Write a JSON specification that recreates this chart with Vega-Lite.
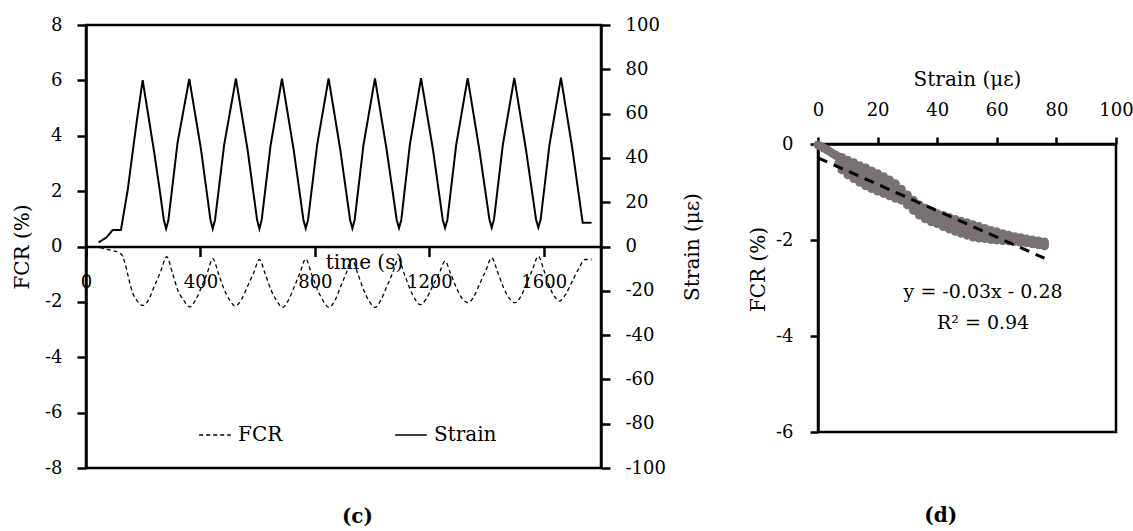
{
  "$schema": "https://vega.github.io/schema/vega-lite/v6.json",
  "background": "white",
  "padding": {"left": 11, "top": 14, "right": 2, "bottom": 5},
  "config": {
    "font": "DejaVu Serif",
    "view": {"stroke": "black", "strokeWidth": 2.5},
    "axis": {"grid": false, "domainColor": "black", "domainWidth": 2.5, "tickColor": "black", "tickWidth": 2.5, "labelColor": "black", "titleColor": "black", "labelFont": "DejaVu Serif", "titleFont": "DejaVu Serif", "labelFontSize": 18, "titleFontSize": 20, "titleFontWeight": "normal", "labelOverlap": false, "labelFlush": false, "labelExpr": "'' + datum.value"},
    "title": {"font": "DejaVu Serif", "fontSize": 20, "color": "black"}
  },
  "datasets": {
    "strain": [
      {"t":44,"v":1.9},{"t":70,"v":3.9},{"t":93,"v":7.4},{"t":122,"v":7.4},{"t":146,"v":25.7},{"t":175,"v":54.3},{"t":198,"v":75.1},
      {"t":239,"v":42},{"t":259,"v":24.2},{"t":272,"v":12},{"t":280,"v":8},{"t":288,"v":12},{"t":320,"v":46.8},{"t":361,"v":75.7},
      {"t":402,"v":43.8},{"t":435,"v":12},{"t":443,"v":8},{"t":451,"v":12},{"t":483,"v":46},{"t":524,"v":75.8},
      {"t":565,"v":43.5},{"t":598,"v":12},{"t":606,"v":8},{"t":614,"v":12},{"t":645,"v":45.5},{"t":685,"v":75.8},
      {"t":726,"v":43.5},{"t":760,"v":12},{"t":768,"v":8.2},{"t":776,"v":12},{"t":808,"v":46},{"t":848,"v":75.9},
      {"t":889,"v":43.5},{"t":923,"v":12},{"t":931,"v":8.2},{"t":939,"v":12},{"t":970,"v":46},{"t":1010,"v":75.9},
      {"t":1051,"v":43.5},{"t":1086,"v":12},{"t":1094,"v":8.3},{"t":1102,"v":12},{"t":1132,"v":46},{"t":1171,"v":76},
      {"t":1213,"v":43.5},{"t":1247,"v":12},{"t":1255,"v":8.4},{"t":1263,"v":12},{"t":1294,"v":46},{"t":1334,"v":76},
      {"t":1375,"v":43.5},{"t":1410,"v":12.2},{"t":1418,"v":8.5},{"t":1426,"v":12.2},{"t":1457,"v":46},{"t":1497,"v":76.1},
      {"t":1538,"v":43.5},{"t":1573,"v":12.2},{"t":1581,"v":8.6},{"t":1589,"v":12.2},{"t":1620,"v":46},{"t":1660,"v":76.2},
      {"t":1700,"v":44},{"t":1736,"v":10.7},{"t":1767,"v":10.7}
    ],
    "fcr": [
      {"t":0,"v":0},{"t":52,"v":-0.05},{"t":70,"v":-0.1},{"t":117,"v":-0.23},{"t":128,"v":-0.35},{"t":134,"v":-0.53},{"t":163,"v":-1.67},{"t":180,"v":-1.98},
      {"t":200,"v":-2.13},{"t":220,"v":-1.9},{"t":239,"v":-1.43},{"t":261,"v":-0.9},{"t":282,"v":-0.37},{"t":302,"v":-0.95},{"t":320,"v":-1.55},{"t":342,"v":-1.95},
      {"t":363,"v":-2.18},{"t":383,"v":-1.93},{"t":404,"v":-1.45},{"t":424,"v":-0.95},{"t":443,"v":-0.44},{"t":463,"v":-0.98},{"t":483,"v":-1.55},{"t":503,"v":-1.95},
      {"t":522,"v":-2.15},{"t":544,"v":-1.9},{"t":565,"v":-1.43},{"t":586,"v":-0.95},{"t":606,"v":-0.47},{"t":626,"v":-0.98},{"t":646,"v":-1.55},{"t":667,"v":-1.97},
      {"t":687,"v":-2.2},{"t":707,"v":-1.95},{"t":728,"v":-1.45},{"t":748,"v":-0.95},{"t":768,"v":-0.45},{"t":788,"v":-0.98},{"t":809,"v":-1.56},{"t":830,"v":-1.98},
      {"t":850,"v":-2.2},{"t":870,"v":-1.95},{"t":890,"v":-1.45},{"t":910,"v":-0.95},{"t":929,"v":-0.45},{"t":950,"v":-0.98},{"t":970,"v":-1.56},{"t":990,"v":-1.98},
      {"t":1010,"v":-2.2},{"t":1030,"v":-1.95},{"t":1051,"v":-1.45},{"t":1072,"v":-0.95},{"t":1092,"v":-0.45},{"t":1112,"v":-0.98},{"t":1132,"v":-1.52},{"t":1150,"v":-1.9},
      {"t":1168,"v":-2.1},{"t":1190,"v":-1.88},{"t":1212,"v":-1.42},{"t":1234,"v":-0.98},{"t":1255,"v":-0.53},{"t":1275,"v":-1.0},{"t":1295,"v":-1.5},{"t":1315,"v":-1.88},
      {"t":1335,"v":-2.03},{"t":1355,"v":-1.82},{"t":1376,"v":-1.35},{"t":1397,"v":-0.88},{"t":1418,"v":-0.41},{"t":1438,"v":-0.9},{"t":1458,"v":-1.45},{"t":1478,"v":-1.85},
      {"t":1499,"v":-2.03},{"t":1519,"v":-1.82},{"t":1540,"v":-1.33},{"t":1560,"v":-0.85},{"t":1581,"v":-0.35},{"t":1600,"v":-0.85},{"t":1618,"v":-1.4},{"t":1637,"v":-1.8},
      {"t":1655,"v":-1.97},{"t":1675,"v":-1.75},{"t":1700,"v":-1.25},{"t":1722,"v":-0.8},{"t":1744,"v":-0.47},{"t":1767,"v":-0.47}
    ],
    "scatter": [
      {"s":0,"f":-0.02},{"s":1,"f":-0.05},{"s":2,"f":-0.085},{"s":3,"f":-0.12},{"s":4,"f":-0.16},{"s":5,"f":-0.2},{"s":6,"f":-0.235},{"s":7,"f":-0.27},{"s":7,"f":-0.4},
      {"s":8,"f":-0.28},{"s":8,"f":-0.41},{"s":8,"f":-0.54},{"s":9,"f":-0.38},{"s":9,"f":-0.52},
      {"s":10,"f":-0.34},{"s":10,"f":-0.49},{"s":10,"f":-0.64},{"s":11,"f":-0.44},{"s":11,"f":-0.6},
      {"s":12,"f":-0.39},{"s":12,"f":-0.555},{"s":12,"f":-0.72},{"s":13,"f":-0.505},{"s":13,"f":-0.675},
      {"s":14,"f":-0.45},{"s":14,"f":-0.625},{"s":14,"f":-0.8},{"s":15,"f":-0.565},{"s":15,"f":-0.745},
      {"s":16,"f":-0.5},{"s":16,"f":-0.685},{"s":16,"f":-0.87},{"s":17,"f":-0.62},{"s":17,"f":-0.81},
      {"s":18,"f":-0.56},{"s":18,"f":-0.745},{"s":18,"f":-0.93},{"s":19,"f":-0.68},{"s":19,"f":-0.865},
      {"s":20,"f":-0.62},{"s":20,"f":-0.8},{"s":20,"f":-0.98},{"s":21,"f":-0.74},{"s":21,"f":-0.915},
      {"s":22,"f":-0.68},{"s":22,"f":-0.855},{"s":22,"f":-1.03},{"s":23,"f":-0.8},{"s":23,"f":-0.97},
      {"s":24,"f":-0.75},{"s":24,"f":-0.915},{"s":24,"f":-1.08},{"s":25,"f":-0.87},{"s":25,"f":-1.025},
      {"s":26,"f":-0.83},{"s":26,"f":-0.98},{"s":26,"f":-1.13},{"s":27,"f":-0.95},{"s":27,"f":-1.085},
      {"s":28,"f":-0.94},{"s":28,"f":-1.055},{"s":28,"f":-1.17},{"s":29,"f":-1.055},{"s":29,"f":-1.165},
      {"s":30,"f":-1.06},{"s":30,"f":-1.165},{"s":30,"f":-1.27},{"s":31,"f":-1.17},{"s":31,"f":-1.27},
      {"s":32,"f":-1.17},{"s":32,"f":-1.275},{"s":32,"f":-1.38},{"s":33,"f":-1.27},{"s":33,"f":-1.38},
      {"s":34,"f":-1.27},{"s":34,"f":-1.375},{"s":34,"f":-1.48},{"s":35,"f":-1.36},{"s":35,"f":-1.465},
      {"s":36,"f":-1.34},{"s":36,"f":-1.45},{"s":36,"f":-1.56},{"s":37,"f":-1.425},{"s":37,"f":-1.535},
      {"s":38,"f":-1.4},{"s":38,"f":-1.51},{"s":38,"f":-1.62},{"s":39,"f":-1.48},{"s":39,"f":-1.585},
      {"s":40,"f":-1.45},{"s":40,"f":-1.555},{"s":40,"f":-1.66},{"s":41,"f":-1.525},{"s":41,"f":-1.635},
      {"s":42,"f":-1.49},{"s":42,"f":-1.605},{"s":42,"f":-1.72},{"s":43,"f":-1.57},{"s":43,"f":-1.685},
      {"s":44,"f":-1.53},{"s":44,"f":-1.65},{"s":44,"f":-1.77},{"s":45,"f":-1.61},{"s":45,"f":-1.735},
      {"s":46,"f":-1.57},{"s":46,"f":-1.695},{"s":46,"f":-1.82},{"s":47,"f":-1.65},{"s":47,"f":-1.78},
      {"s":48,"f":-1.61},{"s":48,"f":-1.735},{"s":48,"f":-1.86},{"s":49,"f":-1.69},{"s":49,"f":-1.815},
      {"s":50,"f":-1.64},{"s":50,"f":-1.77},{"s":50,"f":-1.9},{"s":51,"f":-1.725},{"s":51,"f":-1.855},
      {"s":52,"f":-1.68},{"s":52,"f":-1.81},{"s":52,"f":-1.94},{"s":53,"f":-1.76},{"s":53,"f":-1.89},
      {"s":54,"f":-1.72},{"s":54,"f":-1.84},{"s":54,"f":-1.96},{"s":55,"f":-1.795},{"s":55,"f":-1.91},
      {"s":56,"f":-1.76},{"s":56,"f":-1.865},{"s":56,"f":-1.97},{"s":57,"f":-1.83},{"s":57,"f":-1.93},
      {"s":58,"f":-1.8},{"s":58,"f":-1.895},{"s":58,"f":-1.99},{"s":59,"f":-1.86},{"s":59,"f":-1.95},
      {"s":60,"f":-1.83},{"s":60,"f":-1.915},{"s":60,"f":-2.0},{"s":61,"f":-1.89},{"s":61,"f":-1.965},
      {"s":62,"f":-1.87},{"s":62,"f":-1.94},{"s":62,"f":-2.01},{"s":63,"f":-1.92},{"s":63,"f":-1.985},
      {"s":64,"f":-1.9},{"s":64,"f":-1.96},{"s":64,"f":-2.02},{"s":65,"f":-1.94},{"s":65,"f":-2.0},
      {"s":66,"f":-1.93},{"s":66,"f":-1.98},{"s":66,"f":-2.03},{"s":67,"f":-1.965},{"s":67,"f":-2.015},
      {"s":68,"f":-1.95},{"s":68,"f":-2.0},{"s":68,"f":-2.05},{"s":69,"f":-1.99},{"s":69,"f":-2.035},
      {"s":70,"f":-1.98},{"s":70,"f":-2.02},{"s":70,"f":-2.06},{"s":71,"f":-2.01},{"s":71,"f":-2.05},
      {"s":72,"f":-2.0},{"s":72,"f":-2.04},{"s":72,"f":-2.08},{"s":73,"f":-2.03},{"s":73,"f":-2.07},
      {"s":74,"f":-2.02},{"s":74,"f":-2.06},{"s":74,"f":-2.1},{"s":75,"f":-2.05},{"s":75,"f":-2.09},
      {"s":76,"f":-2.04},{"s":76,"f":-2.08},{"s":76,"f":-2.12}
    ],
    "trend": [{"s":0,"f":-0.29},{"s":76,"f":-2.38}],
    "eq": [{"s":55.4,"f":-3.09,"label":"y = -0.03x - 0.28"},{"s":55.4,"f":-3.72,"label":"R² = 0.94"}]
  },
  "spacing": 43,
  "resolve": {"scale": {"strokeDash": "independent"}, "legend": {"strokeDash": "independent"}},
  "hconcat": [
    {
      "width": 515,
      "height": 443,
      "title": {"text": "(c)", "orient": "bottom", "offset": 30, "fontWeight": "bold", "frame": "bounds", "anchor": "middle"},
      "encoding": {
        "x": {"field": "t", "type": "quantitative", "scale": {"domain": [0, 1800], "nice": false},
          "axis": {"values": [0, 400, 800, 1200, 1600], "offset": -221.5, "title": "time (s)", "tickSize": 10, "labelPadding": 17, "titleX": 278, "titleY": 16, "titleBaseline": "middle", "titleAlign": "center"}}
      },
      "layer": [
        {
          "data": {"name": "fcr"},
          "mark": {"type": "line", "stroke": "black", "strokeWidth": 1.3, "interpolate": "monotone"},
          "encoding": {
            "y": {"field": "v", "type": "quantitative", "scale": {"domain": [-8, 8], "nice": false},
              "axis": {"title": "FCR (%)", "values": [-8, -6, -4, -2, 0, 2, 4, 6, 8], "tickSize": 9, "labelPadding": 15, "titlePadding": 12}},
            "strokeDash": {"datum": "FCR", "type": "nominal", "scale": {"domain": ["FCR", "Strain"], "range": [[4, 3], [1, 0]]},
              "legend": {"orient": "none", "legendX": 112, "legendY": 393, "direction": "horizontal", "columns": 2, "title": null, "symbolType": "stroke", "symbolSize": 1000, "symbolStrokeWidth": 1.5, "symbolStrokeColor": "black", "labelFontSize": 20, "labelFont": "DejaVu Serif", "labelColor": "black", "labelOffset": 6, "columnPadding": 109, "padding": 0}}
          }
        },
        {
          "data": {"name": "strain"},
          "mark": {"type": "line", "stroke": "black", "strokeWidth": 2},
          "encoding": {
            "y": {"field": "v", "type": "quantitative", "scale": {"domain": [-100, 100], "nice": false},
              "axis": {"orient": "right", "title": "Strain (με)", "values": [-100, -80, -60, -40, -20, 0, 20, 40, 60, 80, 100], "tickSize": 9, "labelPadding": 15, "titlePadding": 17, "titleAngle": -90, "titleBaseline": "top"}},
            "strokeDash": {"datum": "Strain", "type": "nominal"}
          }
        }
      ],
      "resolve": {"scale": {"y": "independent"}}
    },
    {
      "spacing": 0,
      "vconcat": [
        {
          "width": 10,
          "height": 42,
          "data": {"values": []},
          "mark": {"type": "point", "opacity": 0},
          "view": {"stroke": null}
        },
        {
          "width": 298,
          "height": 288,
          "title": {"text": "(d)", "orient": "bottom", "offset": 65, "fontWeight": "bold", "frame": "bounds", "anchor": "middle"},
          "layer": [
            {
              "data": {"name": "scatter"},
              "mark": {"type": "circle", "color": "#7a7272", "size": 80, "opacity": 1},
              "encoding": {
                "x": {"field": "s", "type": "quantitative", "scale": {"domain": [0, 100], "nice": false},
                  "axis": {"orient": "top", "values": [0, 20, 40, 60, 80, 100], "title": "Strain (με)", "tickSize": 7, "labelPadding": 18, "titlePadding": 12}},
                "y": {"field": "f", "type": "quantitative", "scale": {"domain": [-6, 0], "nice": false},
                  "axis": {"values": [-6, -4, -2, 0], "title": "FCR (%)", "tickSize": 8, "labelPadding": 17, "titlePadding": 7, "titleY": 125}}
              }
            },
            {
              "data": {"name": "trend"},
              "mark": {"type": "line", "stroke": "black", "strokeWidth": 3, "strokeDash": [10, 7]},
              "encoding": {
                "x": {"field": "s", "type": "quantitative"},
                "y": {"field": "f", "type": "quantitative"}
              }
            },
            {
              "data": {"name": "eq"},
              "mark": {"type": "text", "fontSize": 19, "font": "DejaVu Serif", "color": "black"},
              "encoding": {
                "x": {"field": "s", "type": "quantitative"},
                "y": {"field": "f", "type": "quantitative"},
                "text": {"field": "label"}
              }
            }
          ]
        }
      ]
    }
  ]
}
